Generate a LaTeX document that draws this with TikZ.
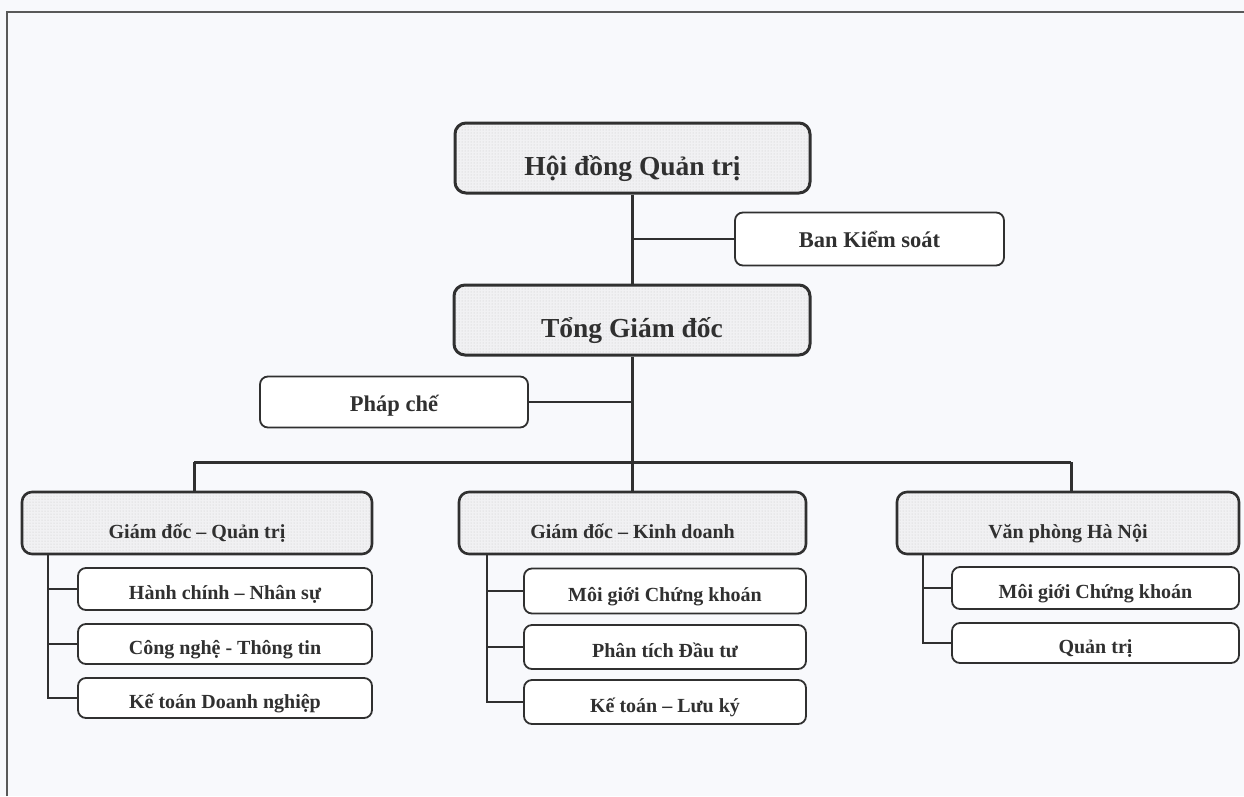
\documentclass[tikz,border=0pt]{standalone}
\usepackage{fontspec}
\setmainfont{Liberation Serif}
\usetikzlibrary{patterns}

\definecolor{paper}{HTML}{F8F9FC}
\definecolor{ink}{HTML}{303030}
\definecolor{shade}{HTML}{F1F1F3}

\tikzset{
  unit/.style={draw=ink, text=ink, rounded corners=8pt, inner sep=0pt,
    align=center, line width=1.8pt, text depth=0pt},
  headbox/.style={unit, line width=3pt, rounded corners=11pt,
    preaction={fill=shade}, pattern=dots, pattern color=gray!45,
    font=\bfseries\fontsize{27.5}{30}\selectfont, text height=35pt},
  deptbox/.style={unit, line width=2.6pt, rounded corners=10pt,
    preaction={fill=shade}, pattern=dots, pattern color=gray!45,
    font=\bfseries\fontsize{20}{24}\selectfont, text height=31pt},
  subbox/.style={unit, fill=white,
    font=\bfseries\fontsize{20}{24}\selectfont, text height=21pt},
  sidebox/.style={unit, fill=white,
    font=\bfseries\fontsize{22.5}{26}\selectfont, text height=18pt},
  trunk/.style={draw=ink, line width=3pt},
  branch/.style={draw=ink, line width=1.8pt},
  frameline/.style={draw=ink!80, line width=1.6pt}
}

\begin{document}
\begin{tikzpicture}[x=1pt,y=-1pt]
\useasboundingbox (0,0) rectangle (1244,796);
\fill[paper] (0,0) rectangle (1244,796);
\draw[frameline] (7,796) -- (7,12) -- (1244,12);

% top of the hierarchy
\node[headbox, minimum width=355pt, minimum height=70pt] (hdqt) at (632.5,158) {Hội đồng Quản trị};
\node[sidebox, minimum width=269pt, minimum height=53pt, text height=17pt] (bks) at (869.5,239) {Ban Kiểm soát};
\node[headbox, minimum width=356pt, minimum height=70pt] (tgd) at (632,320) {Tổng Giám đốc};
\node[sidebox, minimum width=268pt, minimum height=51pt] (pc) at (394,402) {Pháp chế};

% second level
\node[deptbox, minimum width=350pt, minimum height=62pt] (gdqt) at (197,523) {Giám đốc – Quản trị};
\node[deptbox, minimum width=347pt, minimum height=62pt] (gdkd) at (632.5,523) {Giám đốc – Kinh doanh};
\node[deptbox, minimum width=342pt, minimum height=62pt] (vphn) at (1068,523) {Văn phòng Hà Nội};

% units under Giám đốc – Quản trị
\node[subbox, minimum width=294pt, minimum height=42pt] (hcns) at (225,589) {Hành chính – Nhân sự};
\node[subbox, minimum width=294pt, minimum height=40pt] (cntt) at (225,644) {Công nghệ - Thông tin};
\node[subbox, minimum width=294pt, minimum height=40pt] (ktdn) at (225,698) {Kế toán Doanh nghiệp};

% units under Giám đốc – Kinh doanh
\node[subbox, minimum width=282pt, minimum height=45pt] (mgck) at (665,591) {Môi giới Chứng khoán};
\node[subbox, minimum width=282pt, minimum height=44pt] (ptdt) at (665,647) {Phân tích Đầu tư};
\node[subbox, minimum width=282pt, minimum height=44pt] (ktlk) at (665,702) {Kế toán – Lưu ký};

% units under Văn phòng Hà Nội
\node[subbox, minimum width=287pt, minimum height=42pt] (mgckhn) at (1095.5,588) {Môi giới Chứng khoán};
\node[subbox, minimum width=287pt, minimum height=40pt] (qthn) at (1095.5,643) {Quản trị};

% junction points
\coordinate (jk) at (632,239);
\coordinate (jp) at (632,402);
\coordinate (bm) at (632,462);
\coordinate (bl) at (194,462);
\coordinate (br) at (1071,462);
\coordinate (sqt) at (48,0);
\coordinate (skd) at (487,0);
\coordinate (shn) at (923,0);

% main trunk and bus
\draw[trunk] (hdqt.south -| jk) -- (tgd.north -| jk);
\draw[branch] (jk) -- (bks.west);
\draw[trunk] (tgd.south -| jp) -- (bm);
\draw[branch] (jp) -- (pc.east);
\draw[trunk] (bl) -- (br);
\draw[trunk] (bl) -- (bl |- gdqt.north);
\draw[trunk] (bm) -- (bm |- gdkd.north);
\draw[trunk] (br) -- (br |- vphn.north);

% spines to the units
\draw[branch] (gdqt.south -| sqt) |- (ktdn.west);
\draw[branch] (sqt |- hcns.west) -- (hcns.west);
\draw[branch] (sqt |- cntt.west) -- (cntt.west);

\draw[branch] (gdkd.south -| skd) |- (ktlk.west);
\draw[branch] (skd |- mgck.west) -- (mgck.west);
\draw[branch] (skd |- ptdt.west) -- (ptdt.west);

\draw[branch] (vphn.south -| shn) |- (qthn.west);
\draw[branch] (shn |- mgckhn.west) -- (mgckhn.west);
\end{tikzpicture}
\end{document}
